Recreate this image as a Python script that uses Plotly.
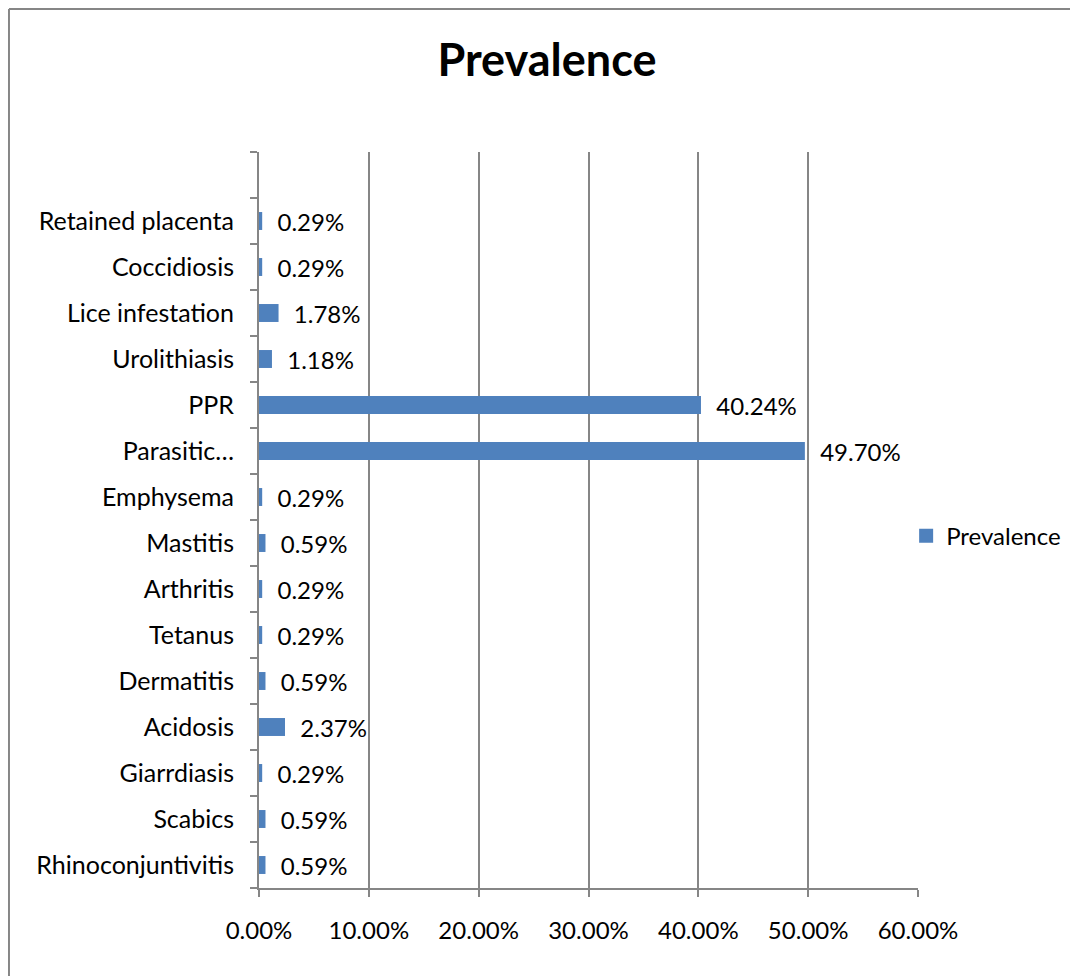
import plotly.graph_objects as go

categories = ["Rhinoconjuntivitis", "Scabics", "Giarrdiasis", "Acidosis", "Dermatitis",
              "Tetanus", "Arthritis", "Mastitis", "Emphysema", "Parasitic…", "PPR",
              "Urolithiasis", "Lice infestation", "Coccidiosis", "Retained placenta"]
prevalence = [0.0059, 0.0059, 0.0029, 0.0237, 0.0059, 0.0029, 0.0029, 0.0059, 0.0029,
              0.4970, 0.4024, 0.0118, 0.0178, 0.0029, 0.0029]
x_ticks = [0, 0.1, 0.2, 0.3, 0.4, 0.5, 0.6]
x_ticktext = ["0.00%", "10.00%", "20.00%", "30.00%", "40.00%", "50.00%", "60.00%"]
series_name = "Prevalence"

FONT = "Lato, Carlito, Calibri, 'Open Sans', sans-serif"
BLUE = "#4F81BD"
GRID = "#868686"
FS = 24

ypos = list(range(len(categories)))

fig = go.Figure()
fig.add_trace(go.Bar(
    x=prevalence, y=ypos, orientation="h", name=series_name, showlegend=False,
    marker=dict(color=BLUE, line=dict(width=0)),
    width=0.39,
    text=prevalence, texttemplate="  %{x:.2%}", textposition="outside",
    constraintext="none",
    textfont=dict(family=FONT, size=FS, color="#000000"),
    cliponaxis=False,
))
# legend entry with a larger square key, as in the original
fig.add_trace(go.Scatter(
    x=[None], y=[None], mode="markers", name=series_name, showlegend=True,
    marker=dict(symbol="square", size=14, color=BLUE),
))

fig.update_layout(
    width=1078, height=976,
    margin=dict(l=251, r=168, t=144, b=96),
    paper_bgcolor="white", plot_bgcolor="white",
    font=dict(family=FONT, size=FS, color="#000000"),
    title=dict(text="<b>Prevalence</b>", x=0.5, xanchor="center", y=0.9467, yanchor="middle",
               font=dict(family=FONT, size=45, color="#000000")),
    showlegend=True,
    legend=dict(x=0.982, xanchor="left", y=0.478, yanchor="middle",
                font=dict(family=FONT, size=FS), itemwidth=30, bgcolor="rgba(0,0,0,0)"),
)

fig.update_xaxes(
    range=[0, 0.6], tickvals=x_ticks, ticktext=x_ticktext,
    showgrid=True, gridcolor=GRID, gridwidth=2,
    showline=True, linecolor=GRID, linewidth=2,
    ticks="outside", tickcolor=GRID, ticklen=7, tickwidth=2,
    ticklabelstandoff=13, zeroline=False,
    tickfont=dict(family=FONT, size=FS),
)
fig.update_yaxes(
    range=[-0.5, len(categories) + 0.5], tickvals=ypos, ticktext=categories,
    showgrid=False, showline=True, linecolor=GRID, linewidth=2,
    ticks="", ticklabelstandoff=18, zeroline=False,
    tickfont=dict(family=FONT, size=25),
    minor=dict(tickvals=[i - 0.5 for i in range(len(categories) + 2)],
               ticks="outside", ticklen=7, tickcolor=GRID, tickwidth=2, showgrid=False),
)

# chart-area border (top and left edges visible in the original)
fig.add_shape(type="line", xref="paper", yref="paper",
              x0=-0.3794, x1=1.5, y0=1.1943, y1=1.1943,
              line=dict(color=GRID, width=2), layer="below")
fig.add_shape(type="line", xref="paper", yref="paper",
              x0=-0.3794, x1=-0.3794, y0=-0.3, y1=1.1943,
              line=dict(color=GRID, width=2), layer="below")

fig.write_html("out.html")
